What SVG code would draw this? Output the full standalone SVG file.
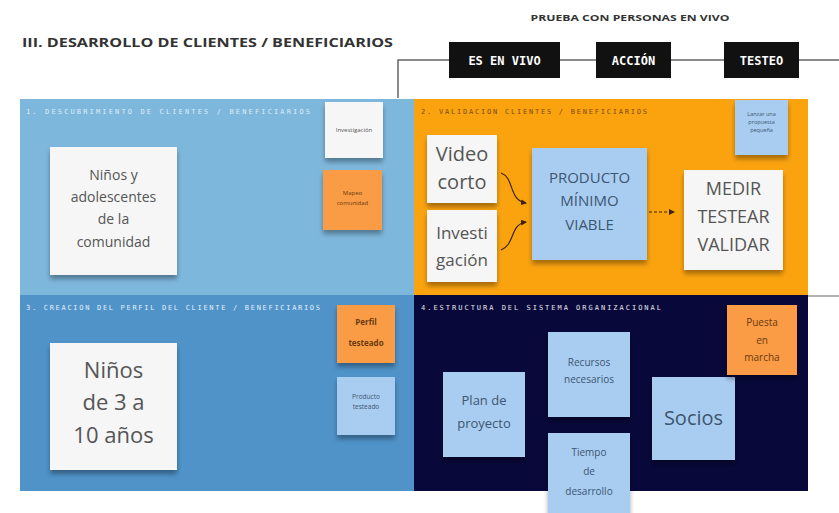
<svg xmlns="http://www.w3.org/2000/svg" width="839" height="513" viewBox="0 0 839 513">
  <defs>
    <filter id="shadow" x="-20%" y="-20%" width="140%" height="150%">
      <feGaussianBlur in="SourceAlpha" stdDeviation="2.5"/>
      <feOffset dx="0" dy="4" result="b"/>
      <feComponentTransfer><feFuncA type="linear" slope="0.35"/></feComponentTransfer>
      <feMerge><feMergeNode/><feMergeNode in="SourceGraphic"/></feMerge>
    </filter>
    <marker id="tip" viewBox="0 0 6 6" refX="5" refY="3" markerWidth="5" markerHeight="5" orient="auto">
      <path d="M0,0 L6,3 L0,6 z" fill="#3a2410"/>
    </marker>
    <style>
      .title{font-family:"Open Sans","Liberation Sans",sans-serif;font-weight:bold;fill:#333}
      .hdr{font-family:"DejaVu Sans Mono","Liberation Mono",monospace;font-size:7px}
      .tag rect{fill:#111}
      .tag text{font-family:"DejaVu Sans Mono","Liberation Mono",monospace;font-weight:bold;font-size:12px;fill:#fff;text-anchor:middle}
      .note rect{filter:url(#shadow)}
      .note text{font-family:"Open Sans","Noto Sans",sans-serif;text-anchor:middle}
      .white rect{fill:#f6f6f6}
      .blue rect{fill:#a9cdf1}
      .orange rect{fill:#f99c45}
      .white text{fill:#555}
      .blue text{fill:#3d5670}
      .orange text{fill:#6a3a10}
      .link{fill:none;stroke:#3a2410;stroke-width:1.2}
    </style>
  </defs>

  <rect width="839" height="513" fill="#fff"/>

  <!-- headings -->
  <text class="title" x="22" y="47" font-size="13" textLength="371" lengthAdjust="spacingAndGlyphs">III. DESARROLLO DE CLIENTES / BENEFICIARIOS</text>
  <text class="title" x="630" y="21" font-size="8" text-anchor="middle" textLength="199" lengthAdjust="spacingAndGlyphs">PRUEBA CON PERSONAS EN VIVO</text>

  <!-- timeline rule -->
  <g id="rule" fill="none" stroke="#666" stroke-width="1.5">
    <path d="M398,98 V60 H839"/>
    <path d="M808,296 H839" stroke="#999"/>
  </g>

  <g id="tag-vivo" class="tag"><rect x="449" y="42" width="111" height="36"/><text x="504.5" y="65">ES EN VIVO</text></g>
  <g id="tag-accion" class="tag"><rect x="596" y="42" width="75" height="36"/><text x="633.5" y="65">ACCIÓN</text></g>
  <g id="tag-testeo" class="tag"><rect x="724" y="42" width="75" height="36"/><text x="761.5" y="65">TESTEO</text></g>

  <!-- quadrants -->
  <g id="q1"><rect x="20" y="99" width="394" height="196" fill="#7eb7dc"/>
    <text class="hdr" x="26" y="114" fill="#dcecf7" textLength="284" lengthAdjust="spacing">1. DESCUBRIMIENTO DE CLIENTES / BENEFICIARIOS</text></g>
  <g id="q2"><rect x="414" y="99" width="394" height="196" fill="#fba30f"/>
    <text class="hdr" x="421" y="114" fill="#7a4a10" textLength="226" lengthAdjust="spacing">2. VALIDACION CLIENTES / BENEFICIARIOS</text></g>
  <g id="q3"><rect x="20" y="295" width="394" height="196" fill="#4f93c9"/>
    <text class="hdr" x="26" y="310" fill="#e3eef8" textLength="294" lengthAdjust="spacing">3. CREACION DEL PERFIL DEL CLIENTE / BENEFICIARIOS</text></g>
  <g id="q4"><rect x="414" y="295" width="394" height="196" fill="#08083a"/>
    <text class="hdr" x="421" y="310" fill="#e6e6ee" textLength="240" lengthAdjust="spacing">4.ESTRUCTURA DEL SISTEMA ORGANIZACIONAL</text></g>

  <!-- quadrant 1 notes -->
  <g id="n-ninos-comunidad" class="note white"><rect x="50" y="147" width="127" height="128"/>
    <text font-size="14"><tspan x="113.5" y="180">Niños y</tspan><tspan x="113.5" y="202">adolescentes</tspan><tspan x="113.5" y="224">de la</tspan><tspan x="113.5" y="247">comunidad</tspan></text></g>
  <g id="n-investigacion" class="note white"><rect x="325" y="102" width="58" height="56"/>
    <text font-size="6"><tspan x="354" y="132">Investigación</tspan></text></g>
  <g id="n-mapeo" class="note orange"><rect x="323" y="170" width="59" height="60"/>
    <text font-size="6"><tspan x="352.5" y="195">Mapeo</tspan><tspan x="352.5" y="205">comunidad</tspan></text></g>

  <!-- quadrant 2 notes -->
  <g id="n-video" class="note white"><rect x="427" y="135" width="70" height="68"/>
    <text font-size="20"><tspan x="462" y="161">Video</tspan><tspan x="462" y="189">corto</tspan></text></g>
  <g id="n-investi" class="note white"><rect x="427" y="210" width="70" height="72"/>
    <text font-size="17"><tspan x="462" y="239">Investi</tspan><tspan x="462" y="266">gación</tspan></text></g>
  <g id="n-pmv" class="note blue"><rect x="532" y="148" width="115" height="112"/>
    <text font-size="15"><tspan x="589.5" y="183">PRODUCTO</tspan><tspan x="589.5" y="206">MÍNIMO</tspan><tspan x="589.5" y="230">VIABLE</tspan></text></g>
  <g id="n-medir" class="note white"><rect x="684" y="170" width="99" height="100"/>
    <text font-size="18"><tspan x="733.5" y="195">MEDIR</tspan><tspan x="733.5" y="223">TESTEAR</tspan><tspan x="733.5" y="251">VALIDAR</tspan></text></g>
  <g id="n-lanzar" class="note blue"><rect x="735" y="100" width="53" height="55"/>
    <text font-size="5.5"><tspan x="761.5" y="116">Lanzar una</tspan><tspan x="761.5" y="124">propuesta</tspan><tspan x="761.5" y="132">pequeña</tspan></text></g>

  <!-- quadrant 3 notes -->
  <g id="n-ninos-edad" class="note white"><rect x="50" y="343" width="127" height="127"/>
    <text font-size="22"><tspan x="113.5" y="378">Niños</tspan><tspan x="113.5" y="410">de 3 a</tspan><tspan x="113.5" y="443">10 años</tspan></text></g>
  <g id="n-perfil" class="note orange"><rect x="337" y="305" width="58" height="58"/>
    <text font-size="8" font-weight="bold"><tspan x="366" y="325">Perfil</tspan><tspan x="366" y="346">testeado</tspan></text></g>
  <g id="n-producto" class="note blue"><rect x="337" y="377" width="58" height="58"/>
    <text font-size="6.5"><tspan x="366" y="399">Producto</tspan><tspan x="366" y="409">testeado</tspan></text></g>

  <!-- quadrant 4 notes -->
  <g id="n-plan" class="note blue"><rect x="443" y="372" width="82" height="85"/>
    <text font-size="13"><tspan x="484" y="405">Plan de</tspan><tspan x="484" y="428">proyecto</tspan></text></g>
  <g id="n-recursos" class="note blue"><rect x="548" y="332" width="82" height="85"/>
    <text font-size="10"><tspan x="589" y="366">Recursos</tspan><tspan x="589" y="383">necesarios</tspan></text></g>
  <g id="n-tiempo" class="note blue"><rect x="548" y="433" width="82" height="80"/>
    <text font-size="10"><tspan x="589" y="456">Tiempo</tspan><tspan x="589" y="475">de</tspan><tspan x="589" y="495">desarrollo</tspan></text></g>
  <g id="n-socios" class="note blue"><rect x="652" y="377" width="83" height="83"/>
    <text font-size="20"><tspan x="693.5" y="425">Socios</tspan></text></g>
  <g id="n-puesta" class="note orange"><rect x="727" y="305" width="70" height="70"/>
    <text font-size="10"><tspan x="762" y="326">Puesta</tspan><tspan x="762" y="344">en</tspan><tspan x="762" y="361">marcha</tspan></text></g>

  <!-- connectors -->
  <g id="connectors">
    <path class="link" d="M501,173 C515,178 508,200 526,203" marker-end="url(#tip)"/>
    <path class="link" d="M501,250 C515,245 510,224 526,222" marker-end="url(#tip)"/>
    <path class="link" d="M649,212 H674" stroke-dasharray="3 2" marker-end="url(#tip)"/>
  </g>
</svg>
